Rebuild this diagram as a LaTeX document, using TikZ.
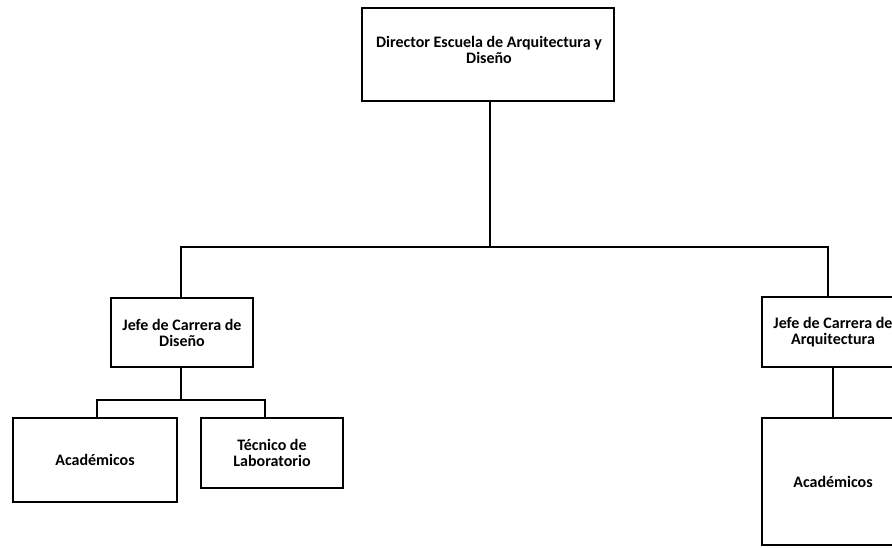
\documentclass[tikz,border=0pt]{standalone}
\usepackage{fontspec}
\setmainfont{Carlito}
\usetikzlibrary{positioning,calc}

\tikzset{
  orgbox/.style={draw,line width=1.6pt,inner sep=0pt},
  orgtext/.style={align=center,font=\fontsize{16}{16}\selectfont\bfseries},
  orgline/.style={line width=1.6pt}
}

\begin{document}
\begin{tikzpicture}[x=1pt,y=-1pt]
  \useasboundingbox (0,0) rectangle (892,548);
  \clip (0,0) rectangle (892,548);

  % director box, text sits a bit high
  \node[orgbox,minimum width=252,minimum height=93] (dir) at (488,54.5) {};
  \node[orgtext] (dirtxt) at (489,50) {Director Escuela de Arquitectura y\\Diseño};

  % jefes de carrera          width            height
  \node[orgbox,orgtext,minimum width=142,minimum height=69] (jdis) at (182,332.5) {Jefe de Carrera de\\Diseño};
  \node[orgbox,orgtext,minimum width=142,minimum height=70] (jarq) at (833,332) {Jefe de Carrera de\\Arquitectura};

  % bottom row
  \node[orgbox,orgtext,minimum width=164,minimum height=84] (acadis) at (95,460) {Académicos};
  \node[orgbox,orgtext,minimum width=142,minimum height=70] (tec) at (272,453) {Técnico de\\Laboratorio};
  \node[orgbox,orgtext,minimum width=142,minimum height=127] (acaarq) at (833,481.5) {Académicos};

  % bus points
  \coordinate (bus) at (490,247);
  \coordinate (subbus) at (181,400);

  % director down to the bus, then out to both jefes
  \draw[orgline] (dir.south -| bus) -- (bus);
  \draw[orgline] (jdis.north -| subbus) |- (bus) -| ([xshift=-5pt]jarq.north);

  % diseno down to its two boxes
  \draw[orgline] (jdis.south -| subbus) -- (subbus);
  \draw[orgline] ([xshift=2pt]acadis.north) |- (subbus) -| ([xshift=-7pt]tec.north);

  % arquitectura down to academicos
  \draw[orgline] (jarq.south) -- (acaarq.north);
\end{tikzpicture}
\end{document}
